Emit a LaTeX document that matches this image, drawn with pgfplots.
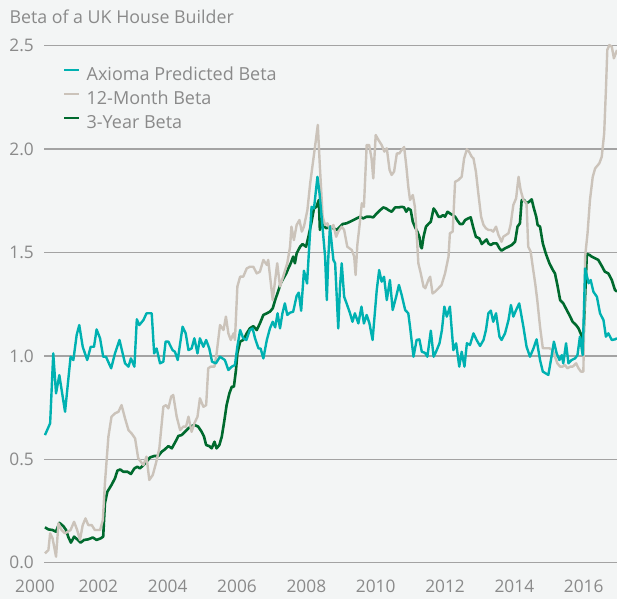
\documentclass[border=0pt]{standalone}
\usepackage{fontspec}
\setmainfont{Open Sans}
\usepackage{pgfplots}
\pgfplotsset{compat=1.18}
\definecolor{bg}{HTML}{F3F5F5}
\definecolor{gridgray}{HTML}{A3A3A3}
\definecolor{txtgray}{HTML}{8A8A8A}
\definecolor{axcyan}{HTML}{00B1B1}
\definecolor{beige}{HTML}{CBC3BA}
\definecolor{dgreen}{HTML}{006A2E}
\begin{document}
\begin{tikzpicture}
\path[use as bounding box, fill=bg] (0,0) rectangle (617pt,599pt);
\node[anchor=base west, inner sep=0pt, text=txtgray, font=\fontsize{17.8}{21}\selectfont] at (9.3pt,575pt) {Beta of a UK House Builder};
\begin{axis}[
  at={(44pt,36.3pt)}, anchor=south west,
  scale only axis, width=573pt, height=517pt,
  xmin=2000.433, xmax=2016.96, ymin=0, ymax=2.5,
  clip=false,
  axis line style={draw=none},
  major tick length=0pt,
  ymajorgrids,
  grid style={color=gridgray, line width=1.3pt},
  xtick={2002,2004,2006,2008,2010,2012,2014,2016},
  xticklabels={2002,2004,2006,2008,2010,2012,2014,2016},
  extra x ticks={2000.433},
  extra x tick labels={2000},
  extra x tick style={xticklabel style={xshift=-9pt}},
  ytick={0,0.5,1,1.5,2,2.5},
  yticklabels={0.0,0.5,1.0,1.5,2.0,2.5},
  tick label style={font=\fontsize{17.3}{20}\selectfont, text=txtgray},
  xticklabel style={anchor=north, inner sep=0pt, yshift=-17.3pt},
  yticklabel style={anchor=east, inner sep=0pt, xshift=-10pt},
  legend cell align=left,
  legend style={at={(rel axis cs:0.0332,0.958)}, anchor=north west, draw=none, fill=none,
    inner sep=0pt, column sep=6pt, row sep=7pt,
    font=\fontsize{18}{21}\selectfont, text=txtgray,
    nodes={inner sep=0pt, text height=13pt, text depth=4pt}},
  legend image code/.code={\draw[#1] (0pt,6.2pt) -- (15pt,6.2pt);},
]
\addlegendimage{axcyan, line width=2.4pt}
\addlegendentry{Axioma Predicted Beta}
\addlegendimage{beige, line width=2.4pt}
\addlegendentry{12-Month Beta}
\addlegendimage{dgreen, line width=2.4pt}
\addlegendentry{3-Year Beta}

% 3-Year Beta
\addplot[dgreen, line width=2.6pt, line join=round, forget plot] coordinates {
(2000.46,0.171)(2000.56,0.161)(2000.68,0.158)(2000.78,0.150)(2000.875,0.193)(2000.99,0.177)
(2001.07,0.158)(2001.13,0.126)(2001.21,0.097)(2001.30,0.126)(2001.39,0.113)(2001.49,0.097)
(2001.59,0.110)(2001.71,0.113)(2001.84,0.122)(2001.95,0.110)(2002.07,0.118)(2002.14,0.126)
(2002.19,0.287)(2002.26,0.343)(2002.38,0.376)(2002.48,0.408)(2002.55,0.445)(2002.63,0.451)
(2002.72,0.440)(2002.84,0.440)(2002.94,0.429)(2003.04,0.456)(2003.125,0.464)(2003.20,0.456)
(2003.30,0.472)(2003.39,0.488)(2003.49,0.509)(2003.61,0.516)(2003.73,0.516)(2003.83,0.537)
(2003.92,0.548)(2004.02,0.564)(2004.12,0.553)(2004.24,0.590)(2004.31,0.613)(2004.40,0.617)
(2004.50,0.633)(2004.60,0.650)(2004.69,0.661)(2004.78,0.666)(2004.88,0.658)(2004.98,0.633)
(2005.05,0.609)(2005.11,0.569)(2005.20,0.564)(2005.27,0.553)(2005.35,0.585)(2005.41,0.553)
(2005.49,0.569)(2005.56,0.609)(2005.63,0.682)(2005.70,0.762)(2005.78,0.819)(2005.85,0.851)
(2005.91,0.851)(2005.97,0.932)(2006.01,1.012)(2006.09,1.069)(2006.18,1.077)(2006.28,1.109)
(2006.37,1.133)(2006.47,1.144)(2006.57,1.125)(2006.66,1.157)(2006.76,1.198)(2006.86,1.206)
(2006.95,1.214)(2007.03,1.230)(2007.10,1.270)(2007.20,1.319)(2007.26,1.351)(2007.34,1.375)
(2007.42,1.399)(2007.48,1.423)(2007.55,1.448)(2007.62,1.480)(2007.67,1.448)(2007.72,1.496)
(2007.82,1.528)(2007.89,1.541)(2007.99,1.528)(2008.06,1.576)(2008.15,1.649)(2008.22,1.713)
(2008.29,1.721)(2008.36,1.754)(2008.39,1.609)(2008.44,1.641)(2008.57,1.617)(2008.68,1.625)
(2008.78,1.617)(2008.88,1.609)(2008.97,1.625)(2009.05,1.638)(2009.16,1.641)(2009.26,1.649)
(2009.36,1.657)(2009.45,1.665)(2009.55,1.673)(2009.64,1.665)(2009.74,1.673)(2009.84,1.673)
(2009.93,1.670)(2010.03,1.689)(2010.13,1.705)(2010.22,1.718)(2010.30,1.713)(2010.37,1.705)
(2010.46,1.697)(2010.56,1.718)(2010.66,1.718)(2010.75,1.721)(2010.82,1.718)(2010.88,1.697)
(2010.94,1.713)(2011.01,1.705)(2011.07,1.649)(2011.13,1.625)(2011.20,1.601)(2011.26,1.576)
(2011.30,1.528)(2011.33,1.520)(2011.38,1.576)(2011.45,1.625)(2011.52,1.638)(2011.59,1.649)
(2011.67,1.713)(2011.74,1.697)(2011.81,1.673)(2011.88,1.673)(2011.94,1.681)(2012.00,1.673)
(2012.07,1.697)(2012.14,1.689)(2012.22,1.681)(2012.29,1.673)(2012.36,1.654)(2012.43,1.638)
(2012.51,1.638)(2012.58,1.657)(2012.67,1.665)(2012.74,1.670)(2012.82,1.617)(2012.89,1.576)
(2012.99,1.568)(2013.06,1.541)(2013.13,1.552)(2013.20,1.563)(2013.25,1.544)(2013.32,1.536)
(2013.39,1.544)(2013.49,1.544)(2013.57,1.520)(2013.63,1.509)(2013.73,1.520)(2013.83,1.528)
(2013.92,1.536)(2014.02,1.552)(2014.09,1.625)(2014.16,1.641)(2014.21,1.754)(2014.28,1.754)
(2014.35,1.738)(2014.43,1.746)(2014.50,1.757)(2014.55,1.721)(2014.63,1.673)(2014.67,1.633)
(2014.74,1.625)(2014.82,1.544)(2014.91,1.493)(2015.01,1.448)(2015.11,1.415)(2015.17,1.399)
(2015.24,1.343)(2015.32,1.270)(2015.41,1.254)(2015.51,1.222)(2015.61,1.190)(2015.68,1.165)
(2015.78,1.149)(2015.85,1.133)(2015.91,1.109)(2015.99,1.077)(2016.09,1.493)(2016.17,1.488)
(2016.23,1.480)(2016.33,1.472)(2016.42,1.464)(2016.52,1.435)(2016.61,1.407)(2016.71,1.399)
(2016.81,1.367)(2016.90,1.319)(2016.96,1.311)
};

% 12-Month Beta
\addplot[beige, line width=2.4pt, line join=round, forget plot] coordinates {
(2000.46,0.045)(2000.56,0.061)(2000.61,0.142)(2000.68,0.118)(2000.78,0.029)(2000.85,0.190)
(2000.94,0.158)(2001.04,0.142)(2001.20,0.158)(2001.30,0.198)(2001.39,0.158)(2001.47,0.110)
(2001.55,0.182)(2001.63,0.214)(2001.71,0.182)(2001.81,0.182)(2001.90,0.158)(2002.05,0.158)
(2002.13,0.206)(2002.19,0.384)(2002.29,0.609)(2002.38,0.706)(2002.48,0.722)(2002.58,0.730)
(2002.67,0.762)(2002.77,0.698)(2002.87,0.641)(2002.96,0.625)(2003.06,0.601)(2003.15,0.505)
(2003.30,0.472)(2003.39,0.513)(2003.47,0.400)(2003.57,0.424)(2003.66,0.480)(2003.76,0.553)
(2003.875,0.754)(2003.95,0.762)(2004.02,0.746)(2004.10,0.803)(2004.16,0.811)(2004.26,0.706)
(2004.36,0.641)(2004.45,0.658)(2004.53,0.658)(2004.60,0.706)(2004.69,0.633)(2004.77,0.674)
(2004.86,0.706)(2004.93,0.795)(2005.03,0.754)(2005.11,0.762)(2005.17,0.940)(2005.24,0.948)
(2005.35,0.948)(2005.41,1.010)(2005.51,1.149)(2005.61,1.125)(2005.68,1.190)(2005.75,1.109)
(2005.82,1.077)(2005.90,1.109)(2005.94,1.077)(2006.01,1.335)(2006.09,1.383)(2006.18,1.383)
(2006.28,1.423)(2006.37,1.431)(2006.47,1.431)(2006.57,1.399)(2006.66,1.407)(2006.76,1.464)
(2006.86,1.440)(2006.90,1.464)(2006.97,1.359)(2007.03,1.270)(2007.10,1.367)(2007.16,1.448)
(2007.24,1.335)(2007.33,1.383)(2007.45,1.448)(2007.53,1.528)(2007.57,1.625)(2007.64,1.560)
(2007.72,1.633)(2007.80,1.657)(2007.87,1.601)(2007.93,1.625)(2008.03,1.705)(2008.11,1.834)
(2008.18,1.923)(2008.25,2.012)(2008.33,2.117)(2008.39,1.915)(2008.47,1.673)(2008.54,1.633)
(2008.61,1.641)(2008.68,1.609)(2008.78,1.633)(2008.86,1.576)(2008.92,1.601)(2009.02,1.625)
(2009.09,1.609)(2009.18,1.528)(2009.31,1.512)(2009.38,1.480)(2009.42,1.391)(2009.47,1.536)
(2009.53,1.625)(2009.60,1.738)(2009.66,1.721)(2009.74,2.020)(2009.81,2.020)(2009.88,1.955)
(2009.93,1.858)(2010.00,2.068)(2010.08,2.044)(2010.17,2.020)(2010.25,1.988)(2010.32,2.004)
(2010.40,1.899)(2010.46,1.875)(2010.53,1.891)(2010.61,1.979)(2010.68,1.979)(2010.75,1.996)
(2010.82,2.010)(2010.88,1.923)(2010.94,1.818)(2010.99,1.754)(2011.07,1.778)(2011.13,1.721)
(2011.18,1.593)(2011.23,1.448)(2011.30,1.399)(2011.38,1.335)(2011.43,1.327)(2011.52,1.367)
(2011.57,1.383)(2011.64,1.302)(2011.71,1.310)(2011.81,1.327)(2011.90,1.343)(2012.00,1.399)
(2012.10,1.480)(2012.14,1.593)(2012.22,1.601)(2012.29,1.842)(2012.38,1.850)(2012.48,1.866)
(2012.55,1.955)(2012.63,1.999)(2012.69,1.988)(2012.77,1.963)(2012.82,1.955)(2012.89,1.891)
(2012.96,1.786)(2013.04,1.673)(2013.11,1.633)(2013.18,1.617)(2013.25,1.609)(2013.32,1.609)
(2013.39,1.601)(2013.47,1.625)(2013.54,1.585)(2013.63,1.552)(2013.68,1.576)(2013.76,1.585)
(2013.83,1.593)(2013.89,1.633)(2013.97,1.730)(2014.05,1.762)(2014.12,1.866)(2014.18,1.802)
(2014.26,1.754)(2014.35,1.738)(2014.40,1.528)(2014.47,1.504)(2014.53,1.431)(2014.60,1.351)
(2014.66,1.270)(2014.74,1.141)(2014.82,1.037)(2014.91,1.037)(2015.01,1.037)(2015.11,1.028)
(2015.17,0.996)(2015.24,0.964)(2015.32,0.948)(2015.39,0.948)(2015.46,0.956)(2015.53,0.940)
(2015.61,0.948)(2015.68,0.948)(2015.78,0.964)(2015.85,0.940)(2015.92,0.924)(2015.99,0.924)
(2016.04,1.480)(2016.11,1.593)(2016.18,1.754)(2016.26,1.866)(2016.33,1.907)(2016.45,1.931)
(2016.52,1.963)(2016.59,2.076)(2016.64,2.286)(2016.68,2.480)(2016.74,2.503)(2016.81,2.495)
(2016.87,2.439)(2016.96,2.479)
};

% Axioma Predicted Beta
\addplot[axcyan, line width=2.4pt, line join=round, forget plot] coordinates {
(2000.46,0.617)(2000.61,0.674)(2000.70,1.012)(2000.78,0.819)(2000.875,0.907)(2001.04,0.730)
(2001.20,0.996)(2001.28,0.980)(2001.375,1.101)(2001.45,1.149)(2001.55,1.044)(2001.68,0.980)
(2001.78,1.044)(2001.875,1.044)(2001.95,1.128)(2002.05,1.085)(2002.14,0.996)(2002.22,0.996)
(2002.37,0.940)(2002.48,1.012)(2002.61,1.077)(2002.77,0.964)(2002.87,0.948)(2002.94,0.988)
(2003.04,0.948)(2003.11,1.177)(2003.18,1.149)(2003.30,1.173)(2003.39,1.206)(2003.54,1.206)
(2003.61,1.012)(2003.68,1.036)(2003.78,0.964)(2003.875,0.972)(2003.94,1.069)(2004.02,1.069)
(2004.14,1.028)(2004.21,1.020)(2004.29,0.980)(2004.43,1.141)(2004.52,1.109)(2004.60,1.028)
(2004.69,1.036)(2004.77,1.085)(2004.86,1.012)(2004.93,1.085)(2005.03,1.044)(2005.11,1.077)
(2005.20,1.036)(2005.28,0.972)(2005.39,0.964)(2005.51,0.996)(2005.65,0.980)(2005.75,0.932)
(2005.85,0.948)(2005.94,0.956)(2006.01,1.045)(2006.09,1.125)(2006.18,1.085)(2006.27,1.077)
(2006.37,1.125)(2006.45,1.133)(2006.52,1.085)(2006.62,1.036)(2006.68,1.036)(2006.76,0.988)
(2006.86,1.077)(2006.95,1.133)(2007.03,1.165)(2007.10,1.138)(2007.17,1.206)(2007.24,1.133)
(2007.31,1.206)(2007.38,1.254)(2007.45,1.198)(2007.53,1.209)(2007.62,1.214)(2007.72,1.290)
(2007.78,1.306)(2007.85,1.218)(2007.93,1.412)(2008.02,1.350)(2008.15,1.721)(2008.22,1.713)
(2008.32,1.866)(2008.38,1.786)(2008.44,1.673)(2008.54,1.480)(2008.59,1.270)(2008.63,1.464)
(2008.68,1.625)(2008.78,1.464)(2008.83,1.448)(2008.92,1.133)(2008.97,1.335)(2009.02,1.448)
(2009.09,1.286)(2009.16,1.254)(2009.26,1.206)(2009.33,1.165)(2009.40,1.206)(2009.50,1.157)
(2009.59,1.238)(2009.66,1.157)(2009.74,1.198)(2009.82,1.157)(2009.91,1.077)(2010.03,1.318)
(2010.10,1.415)(2010.17,1.359)(2010.24,1.383)(2010.32,1.270)(2010.41,1.367)(2010.49,1.222)
(2010.59,1.286)(2010.67,1.343)(2010.75,1.294)(2010.85,1.222)(2010.94,1.206)(2010.99,1.141)
(2011.09,0.996)(2011.18,1.077)(2011.26,1.080)(2011.33,1.020)(2011.42,1.015)(2011.49,0.996)
(2011.59,1.122)(2011.67,0.996)(2011.74,1.020)(2011.84,1.061)(2011.91,1.125)(2011.98,1.238)
(2012.05,1.190)(2012.14,1.238)(2012.24,1.028)(2012.32,1.061)(2012.41,0.948)(2012.48,1.020)
(2012.56,0.948)(2012.63,1.061)(2012.72,1.053)(2012.82,1.109)(2012.91,1.077)(2013.01,1.048)
(2013.11,1.077)(2013.18,1.125)(2013.25,1.206)(2013.32,1.219)(2013.39,1.165)(2013.47,1.206)
(2013.57,1.093)(2013.63,1.077)(2013.73,1.109)(2013.83,1.173)(2013.90,1.246)(2013.97,1.190)
(2014.05,1.222)(2014.14,1.254)(2014.26,1.141)(2014.35,1.045)(2014.45,0.996)(2014.55,1.036)
(2014.64,1.080)(2014.74,0.980)(2014.82,0.924)(2014.98,0.908)(2015.07,0.996)(2015.14,1.069)
(2015.22,1.012)(2015.30,0.980)(2015.37,1.004)(2015.41,0.964)(2015.49,1.061)(2015.56,0.964)
(2015.65,0.980)(2015.75,0.988)(2015.82,1.004)(2015.89,1.093)(2015.97,1.004)(2016.04,1.423)
(2016.14,1.351)(2016.20,1.367)(2016.28,1.310)(2016.38,1.286)(2016.47,1.206)(2016.57,1.173)
(2016.64,1.093)(2016.71,1.109)(2016.81,1.077)(2016.90,1.080)(2016.96,1.085)
};
\end{axis}
\end{tikzpicture}
\end{document}
